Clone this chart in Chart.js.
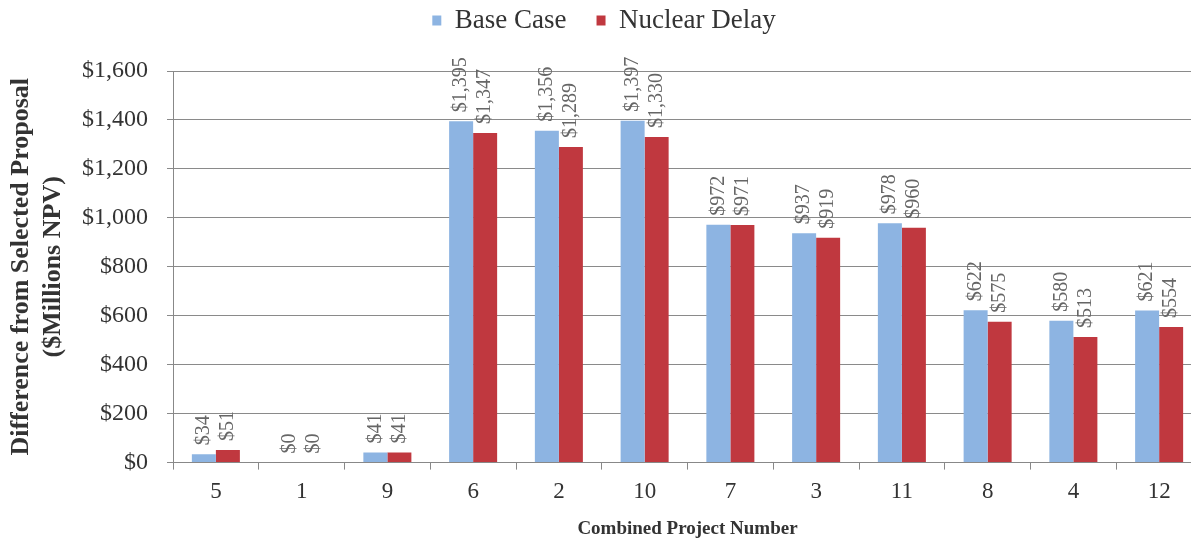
<!DOCTYPE html>
<html>
<head>
<meta charset="utf-8">
<script src="https://cdn.jsdelivr.net/npm/chart.js@4"></script>
<style>
  html, body { margin: 0; padding: 0; background: #fff; overflow: hidden; }
  #wrap { width: 1210px; height: 540px; }
</style>
</head>
<body>
<div id="wrap"><canvas id="npvChart"></canvas></div>
<script>
// project numbers along the bottom
var projects = ['5', '1', '9', '6', '2', '10', '7', '3', '11', '8', '4', '12'];
// $ millions NPV difference from selected proposal
var baseCase = [34, 0, 41, 1395, 1356, 1397, 972, 937, 978, 622, 580, 621];
var nuclearDelay = [51, 0, 41, 1347, 1289, 1330, 971, 919, 960, 575, 513, 554];
var yMax = 1600;

var serif = '"Liberation Serif", "Times New Roman", serif';

// rotated value labels above each bar
var barLabels = {
    id: 'barLabels',
    afterDatasetsDraw: function (chart) {
        var ctx = chart.ctx;
        ctx.save();
        ctx.font = '20px ' + serif;
        ctx.fillStyle = '#666';
        ctx.textAlign = 'left';
        ctx.textBaseline = 'middle';
        chart.data.datasets.forEach(function (ds, i) {
            chart.getDatasetMeta(i).data.forEach(function (bar, j) {
                ctx.save();
                ctx.translate(bar.x, bar.y - 9);
                ctx.rotate(-Math.PI / 2);
                ctx.fillText('$' + ds.data[j].toLocaleString('en-US'), 0, 0);
                ctx.restore();
            });
        });
        ctx.restore();
    }
};

var ctx = document.getElementById('npvChart').getContext('2d');
var chart = new Chart(ctx, {
    type: 'bar',
    data: {
        labels: projects,
        datasets: [{
            label: 'Base Case',
            data: baseCase,
            backgroundColor: '#8db4e2'
        },
        {
            label: 'Nuclear Delay',
            data: nuclearDelay,
            backgroundColor: '#c0383f'
        }]
    },
    options: {
        responsive: true,
        maintainAspectRatio: false,
        animation: false,
        categoryPercentage: 0.56,
        barPercentage: 1.0,
        layout: { padding: { left: 6, right: 8, top: -23, bottom: 0 } },
        plugins: {
            tooltip: { enabled: false },
            legend: {
                position: 'top',
                labels: {
                    font: { family: serif, size: 27 },
                    color: '#333',
                    boxWidth: 9,
                    boxHeight: 10,
                    padding: 30
                }
            }
        },
        scales: {
            x: {
                grid: {
                    offset: true,
                    drawOnChartArea: false,
                    color: '#888',
                    tickLength: 7
                },
                border: { color: '#888' },
                ticks: {
                    font: { family: serif, size: 23 },
                    color: '#333',
                    padding: 9
                },
                title: {
                    display: true,
                    text: 'Combined Project Number',
                    font: { family: serif, size: 19, weight: 'bold' },
                    color: '#333',
                    padding: { top: 2, bottom: 0 }
                }
            },
            y: {
                min: 0,
                max: yMax,
                afterFit: function (scale) { scale.width = 167; },
                grid: {
                    color: function (c) {
                        return c.tick && c.tick.value % 200 === 0 ? '#8a8a8a' : '#e2e2e2';
                    },
                    tickLength: 6
                },
                border: { color: '#888' },
                ticks: {
                    stepSize: 100,
                    font: { family: serif, size: 24 },
                    color: '#333',
                    padding: 19,
                    callback: function (v) {
                        return v % 200 === 0 ? '$' + v.toLocaleString('en-US') : '';
                    }
                },
                title: {
                    display: true,
                    text: ['Difference from Selected Proposal', '($Millions NPV)'],
                    font: { family: serif, size: 26, weight: 'bold' },
                    color: '#333',
                    padding: { top: 0, bottom: 4 }
                }
            }
        }
    },
    plugins: [barLabels]
});

// leave a wider gap between legend and plot area, as in the original
var legendFit = chart.legend.fit;
chart.legend.fit = function () {
    legendFit.call(this);
    this.height += 27;
};
chart.update();
</script>
</body>
</html>
